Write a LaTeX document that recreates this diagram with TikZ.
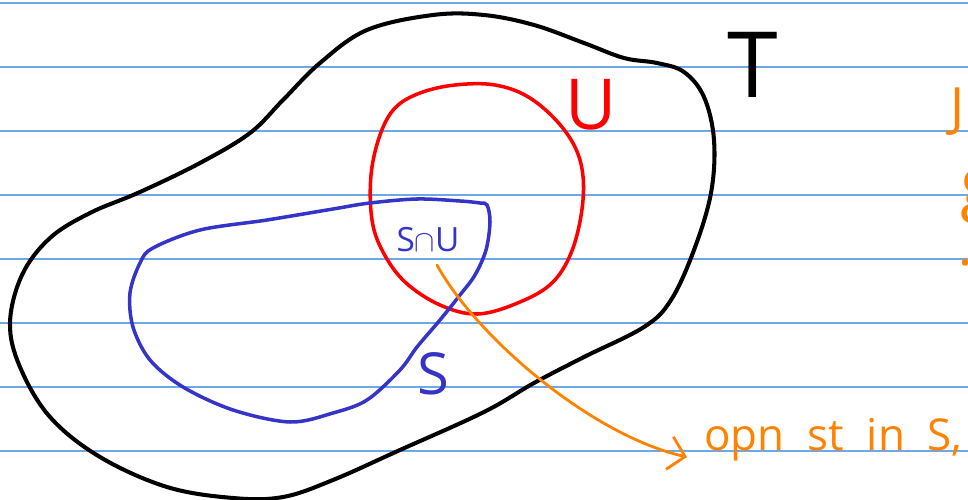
\documentclass[tikz,border=0pt]{standalone}
\usepackage{fontspec}
\setsansfont{Open Sans}
\usetikzlibrary{arrows.meta, calc, positioning}
\definecolor{ruleBlue}{HTML}{6FA8E6}
\definecolor{inkRed}{HTML}{FF0000}
\definecolor{inkBlue}{HTML}{3434C8}
\definecolor{inkOrange}{HTML}{FF8200}
\tikzset{
  ruleline/.style  = {ruleBlue, line width=0.9pt},
  setT/.style      = {black, line width=2.3pt, line join=round},
  setU/.style      = {inkRed, line width=2pt},
  setS/.style      = {inkBlue, line width=2pt},
  pointer/.style   = {inkOrange, line width=1.6pt, line cap=round,
                      -{Straight Barb[length=9pt, width=19pt, line width=1.6pt]}},
  hand/.style      = {font=\sffamily\fontsize{#1}{#1}\selectfont, inner sep=0pt},
}

\begin{document}
\begin{tikzpicture}[x=0.02cm,y=-0.02cm]
  \useasboundingbox (0,0) rectangle (968,500);
  % ruled paper
  \foreach \y in {3,67,...,451}
    \draw[ruleline] (0,\y) -- (968,\y);
  % the three sets
  \draw[setT] plot[smooth cycle, tension=0.6] coordinates {
    (657,63) (684,72) (704,97) (714,140) (711,193) (694,250) (671,300)
    (644,327) (584,357) (534,383) (484,412) (400,450) (333,480) (283,497)
    (233,498) (167,487) (100,457) (50,417) (20,367) (10,323) (22,275)
    (50,238) (90,213) (140,192) (200,163) (250,133) (283,100)
    (320,63) (367,30) (433,15) (484,15) (534,25) (584,43) (624,58)};
  \draw[setU] plot[smooth cycle, tension=0.6] coordinates {
    (455,85) (495,85) (530,98) (562,127) (580,160) (583,200) (573,248)
    (553,282) (520,302) (478,314) (440,305) (405,282) (383,252) (372,220)
    (371,175) (380,135) (395,108) (420,93)};
  \draw[setS] plot[smooth cycle, tension=0.55] coordinates {
    (487,205) (490,222) (486,250) (475,275) (460,295) (440,320) (417,347)
    (400,370) (367,400) (333,413) (290,422) (233,410) (183,387) (150,360)
    (133,327) (130,293) (140,263) (153,248) (200,230) (267,220) (333,209)
    (370,203) (417,199) (460,201) (480,203)};
  % labels
  \node[hand=52] (lblT) at (753,65) {T};
  \node[hand=40, inkRed] (lblU) at (591,105) {U};
  \node[hand=33, inkBlue] (lblS) at (433,374) {S};
  \node[hand=19, inkBlue] (lblSU) at (428,240) {S$\cap$U};
  \node[hand=25, inkOrange, anchor=base west] (note) at (704,450)
    {opn\hspace{13pt}st\hspace{13pt}in\hspace{13pt}S,};
  \node[hand=30, inkOrange, anchor=west] (cutA) at (950,112) {J};
  \node[hand=40, inkOrange, anchor=base west] (cutB) at (960,208) {g};
  \node[hand=30, inkOrange, anchor=base west] (cutC) at (958,266) {.};
  % pointer
  \coordinate (tail) at (437,265);
  \draw[pointer] (tail) .. controls (475,335) and (590,435) .. ($(note.base west)+(-17,7)$);
\end{tikzpicture}
\end{document}
